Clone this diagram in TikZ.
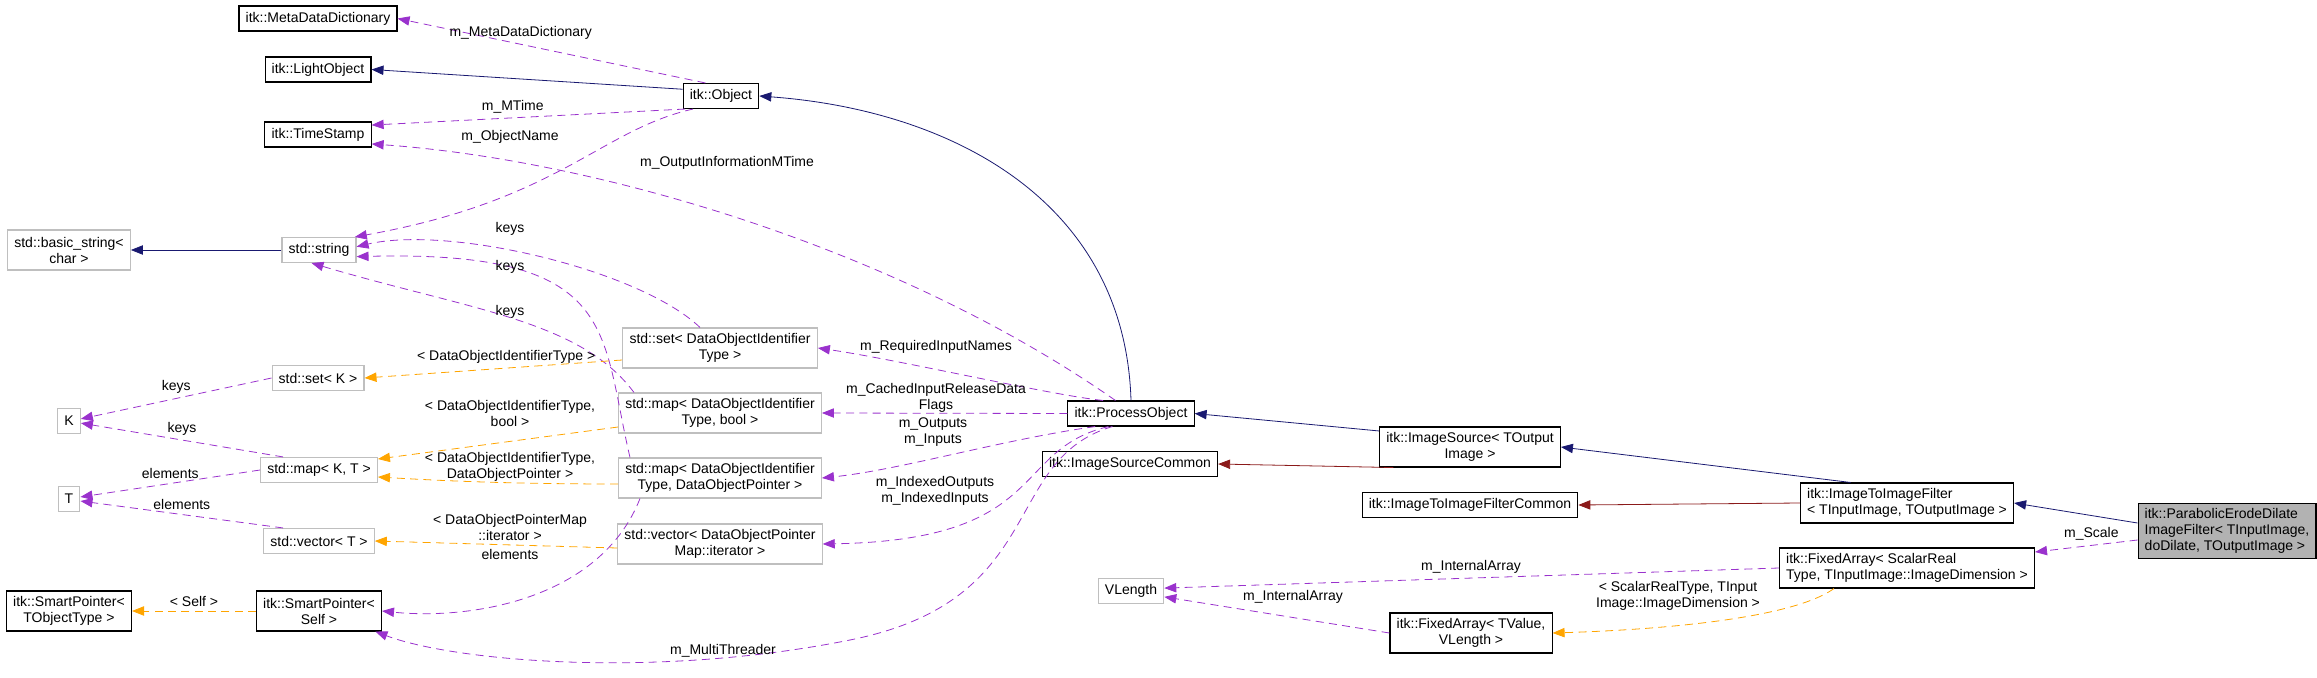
\documentclass[tikz,border=0pt]{standalone}
\usepackage{fontspec}
\setmainfont{Liberation Sans}
\usetikzlibrary{arrows.meta}
\definecolor{inh}{HTML}{191970}
\definecolor{priv}{HTML}{8B1A1A}
\definecolor{use}{HTML}{9A32CD}
\definecolor{tmpl}{HTML}{FFA500}
\tikzstyle{cls} = [rectangle, draw=black, thick, fill=white, minimum height=18.75pt, inner xsep=5pt,
font=\fontsize{10.5}{12}\selectfont, align=center]
\tikzstyle{ext} = [cls, draw=black!25]
\tikzstyle{two} = [minimum height=30pt]
\tikzstyle{tip} = [-{Triangle[length=9pt,width=7pt]}]
\tikzstyle{inherit} = [tip, draw=inh, semithick]
\tikzstyle{privinh} = [tip, draw=priv, semithick]
\tikzstyle{member} = [tip, draw=use, semithick, dash pattern=on 6pt off 4pt]
\tikzstyle{templ} = [tip, draw=tmpl, semithick, dash pattern=on 6pt off 4pt]
\tikzstyle{lbl} = [font=\fontsize{10.5}{12}\selectfont, align=center]

\begin{document}
\begin{tikzpicture}[x=0.75pt, y=-0.75pt]
\useasboundingbox (0,0) rectangle (2317,678);

% classes
\node(meta)[cls] at (318,18.5){itk::MetaDataDictionary};
\node(light)[cls] at (318,69.5){itk::LightObject};
\node(stamp)[cls] at (318,134.5){itk::TimeStamp};
\node(obj)[cls] at (721,96){itk::Object};
\node(bstr)[ext, two] at (69,250){std::basic\_string<\\char >};
\node(str)[ext] at (319,250){std::string};
\node(setDO)[ext, two, minimum width=146pt] at (720,348){std::set< DataObjectIdentifier\\Type >};
\node(setK)[ext] at (318,378){std::set< K >};
\node(K)[ext] at (69,421){K};
\node(mapKT)[ext] at (319,470){std::map< K, T >};
\node(T)[ext] at (69,499){T};
\node(vecT)[ext] at (319,541){std::vector< T >};
\node(spT)[cls, two] at (69,611){itk::SmartPointer<\\TObjectType >};
\node(spS)[cls, two] at (319,611){itk::SmartPointer<\\Self >};
\node(mapB)[ext, two, minimum width=150pt] at (720,413){std::map< DataObjectIdentifier\\Type, bool >};
\node(mapP)[ext, two, minimum width=150pt] at (720,478){std::map< DataObjectIdentifier\\Type, DataObjectPointer >};
\node(vecP)[ext, two, minimum width=150pt] at (720,544){std::vector< DataObjectPointer\\Map::iterator >};
\node(proc)[cls] at (1131,413.5){itk::ProcessObject};
\node(srcC)[cls] at (1130,464){itk::ImageSourceCommon};
\node(src)[cls, two] at (1470,447){itk::ImageSource< TOutput\\Image >};
\node(i2iC)[cls] at (1470,505){itk::ImageToImageFilterCommon};
\node(vlen)[ext] at (1131,591){VLength};
\node(faV)[cls, two] at (1471,633){itk::FixedArray< TValue,\\VLength >};
\node(i2i)[cls, two, align=left] at (1907,503){itk::ImageToImageFilter\\< TInputImage, TOutputImage >};
\node(faS)[cls, two, align=left] at (1907,568){itk::FixedArray< ScalarReal\\Type, TInputImage::ImageDimension >};
\node(para)[cls, two, fill=black!30, minimum height=41pt, align=left] at (2227,531){itk::ParabolicErodeDilate\\ImageFilter< TInputImage,\\ doDilate, TOutputImage >};

% inheritance
\draw[inherit](obj.170) -- (light.east);
\draw[inherit](proc.north) .. controls (1125,200) and (950,110) .. (obj.east);
\draw[inherit](str.west) -- (bstr.east);
\draw[inherit](src.170) -- (proc.east);
\draw[inherit](i2i.160) -- (src.east);
\draw[inherit](para.west |- 0,523) -- (i2i.east);
\draw[privinh](src.195) -- (srcC.east);
\draw[privinh](i2i.west) -- (i2iC.east);

% members
\draw[member](obj.140) -- node[lbl, above, pos=0.6]{m\_MetaDataDictionary}(meta.east);
\draw[member](obj.200) -- node[lbl, above, pos=0.55]{m\_MTime}(stamp.10);
\draw[member](obj.205) .. controls (600,130) and (560,200) .. (str.20);
\node[lbl] at (510,137){m\_ObjectName};
\draw[member](proc.140) .. controls (900,250) and (600,160) .. (stamp.-10);
\node[lbl] at (727,163){m\_OutputInformationMTime};
\draw[member](setDO.north -| 700,0) .. controls (640,270) and (450,225) .. (str.5);
\node[lbl] at (510,229){keys};
\draw[member](mapP.north -| 630,0) .. controls (600,330) and (620,250) .. (str.-10);
\node[lbl] at (510,267){keys};
\draw[member](mapB.north -| 634,0) .. controls (580,320) and (470,310) .. (str.-120);
\node[lbl] at (510,312){keys};
\draw[member](setK.west) -- node[lbl, above]{keys}(K.10);
\draw[member](mapKT.160) -- node[lbl, above]{keys}(K.-10);
\draw[member](mapKT.west) -- node[lbl, above]{elements}(T.10);
\draw[member](vecT.160) -- node[lbl, above]{elements}(T.-10);
\draw[member](mapP.south -| 640,0) .. controls (600,600) and (470,620) .. (spS.east);
\node[lbl] at (510,554){elements};
\draw[member](proc.155) .. controls (1050,395) and (900,360) .. (setDO.east);
\node[lbl] at (936,347){m\_RequiredInputNames};
\draw[member](proc.west) -- (mapB.east);
\node[lbl] at (936,398){m\_CachedInputReleaseData\\Flags};
\draw[member](proc.200) .. controls (1000,440) and (900,470) .. (mapP.east);
\node[lbl] at (933,432){m\_Outputs\\m\_Inputs};
\draw[member](proc.210) .. controls (1010,450) and (1050,540) .. (vecP.east);
\node[lbl] at (935,491){m\_IndexedOutputs\\m\_IndexedInputs};
\draw[member](proc.215) .. controls (1000,460) and (1050,600) .. (850,640) .. controls (650,680) and (450,660) .. (spS.-20);
\node[lbl] at (723,651){m\_MultiThreader};
\draw[member](para.west |- 0,540) -- node[lbl, above, pos=0.45]{m\_Scale}(faS.east |- 0,552);
\draw[member](faS.west) -- (vlen.5);
\node[lbl] at (1471,567){m\_InternalArray};
\draw[member](faV.west) -- (vlen.-10);
\node[lbl] at (1293,597){m\_InternalArray};

% templates
\draw[templ](setDO.west |- 0,360) -- node[lbl, above, pos=0.45]{< DataObjectIdentifierType >}(setK.east);
\draw[templ](mapB.west |- 0,427) -- (mapKT.east |- 0,459);
\node[lbl] at (510,413){< DataObjectIdentifierType,\\bool >};
\draw[templ](mapP.west |- 0,484) .. controls (500,484) and (430,480) .. (mapKT.east |- 0,477);
\node[lbl] at (510,467){< DataObjectIdentifierType,\\DataObjectPointer >};
\draw[templ](vecP.west |- 0,548) -- (vecT.east);
\node[lbl] at (510,527){< DataObjectPointerMap\\::iterator >};
\draw[templ](spS.west) -- node[lbl, above]{< Self >}(spT.east);
\draw[templ](faS.south -| 1834,0) .. controls (1790,620) and (1650,630) .. (faV.east);
\node[lbl] at (1678,596){< ScalarRealType, TInput\\Image::ImageDimension >};
\end{tikzpicture}
\end{document}
